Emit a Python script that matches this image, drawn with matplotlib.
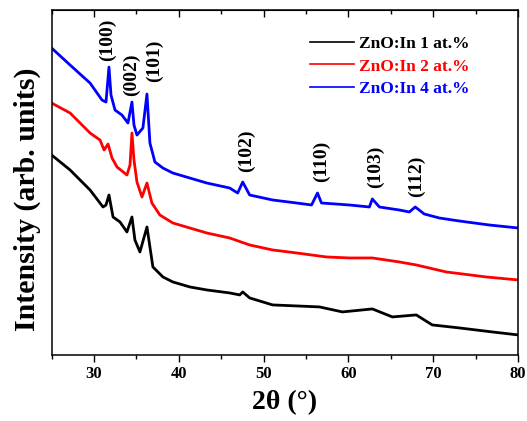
import matplotlib
matplotlib.use('Agg')
import matplotlib.pyplot as plt

plt.rcParams['font.family'] = ['Liberation Serif', 'DejaVu Serif']
plt.rcParams['font.weight'] = 'bold'

# 2theta (deg) and intensity (arb. units)
x_zn4 = [25.0, 27.18, 29.53, 30.94, 31.41, 31.76, 32.0, 32.47, 33.29, 34.0, 34.47, 34.71,
         35.06, 35.76, 36.24, 36.59, 37.18, 38.12, 39.29, 41.29, 43.29, 45.99, 46.94,
         47.53, 48.35, 51.06, 53.88, 55.65, 56.35, 56.82, 60.12, 62.47, 62.82, 63.65,
         66.0, 67.18, 67.88, 68.94, 70.71, 73.06, 76.59, 80.0]
y_zn4 = [307, 290, 272, 255, 253, 288, 260, 245, 240, 232, 253, 230,
         220, 227, 261, 212, 193, 187, 182, 177, 172, 167, 162,
         173, 160, 155, 152, 150, 162, 152, 150, 148, 156, 148,
         145, 143, 148, 141, 137, 134, 130, 127]

x_zn2 = [25.0, 27.18, 29.53, 30.71, 31.18, 31.65, 32.12, 32.71, 33.88, 34.24, 34.47, 34.71,
         35.06, 35.65, 36.24, 36.82, 37.76, 39.29, 41.29, 43.29, 45.99, 48.35, 51.06,
         53.88, 57.41, 60.12, 62.82, 66.0, 68.0, 71.53, 76.24, 80.0]
y_zn2 = [252, 242, 222, 215, 205, 211, 197, 188, 180, 190, 222, 195,
         173, 158, 172, 152, 140, 132, 127, 122, 117, 110, 105,
         102, 98, 97, 97, 93, 90, 83, 78, 75]

x_zn1 = [25.0, 27.18, 29.53, 31.06, 31.41, 31.76, 32.24, 33.06, 33.88, 34.47, 34.82, 35.41,
         36.24, 36.94, 38.12, 39.29, 41.29, 43.29, 45.99, 47.18, 47.53, 48.35, 51.06,
         53.88, 56.59, 59.29, 62.82, 65.18, 68.0, 69.88, 73.06, 76.94, 80.0]
y_zn1 = [200, 185, 165, 148, 150, 160, 138, 133, 123, 138, 115, 103,
         128, 88, 78, 73, 68, 65, 62, 60, 63, 57, 50,
         49, 48, 43, 46, 38, 40, 30, 27, 23, 20]

labels = ['ZnO:In 1 at.%', 'ZnO:In 2 at.%', 'ZnO:In 4 at.%']
colors = ['black', 'red', 'blue']

peak_names = ['(100)', '(002)', '(101)', '(102)', '(110)', '(103)', '(112)']
peak_x = [31.53, 34.47, 37.18, 48.0, 56.82, 63.18, 68.0]
peak_y = [315, 280, 294, 204, 194, 188, 179]

fig = plt.figure(figsize=(5.27, 4.21), dpi=100)
ax = fig.add_axes([0.098, 0.157, 0.885, 0.819])

for xs, ys, lab, c in zip([x_zn1, x_zn2, x_zn4], [y_zn1, y_zn2, y_zn4], labels, colors):
    ax.plot(xs, ys, color=c, lw=2.0, label=lab)

for name, px, py in zip(peak_names, peak_x, peak_y):
    ax.text(px, py, name, rotation=90, ha='center', va='center',
            fontsize=14, fontweight='bold')

ax.set_xlim(25, 80)
ax.set_ylim(0, 345)
ax.set_yticks([])
ax.set_xticks([30, 40, 50, 60, 70, 80])
ax.set_xticks([25, 35, 45, 55, 65, 75], minor=True)
ax.tick_params(axis='x', which='major', direction='out', length=5, width=1, labelsize=12, pad=3)
ax.tick_params(axis='x', which='minor', direction='out', length=3, width=1)
for t in ax.get_xticklabels():
    t.set_fontweight('bold')

top = ax.secondary_xaxis('top')
top.set_xticks([30, 40, 50, 60, 70, 80])
top.set_xticks([25, 35, 45, 55, 65, 75], minor=True)
top.tick_params(which='major', direction='in', length=5, width=1, labeltop=False)
top.tick_params(which='minor', direction='in', length=3, width=1)

for sp in ax.spines.values():
    sp.set_linewidth(1.1)

ax.set_xlabel('2θ (°)', fontsize=20, fontweight='bold', labelpad=6)
ax.set_ylabel('Intensity (arb. units)', fontsize=21.5, fontweight='bold')
ax.yaxis.set_label_coords(-0.022, 0.45)

leg = ax.legend(loc='upper left', bbox_to_anchor=(0.555, 0.925), frameon=False,
                fontsize=12.5, handlelength=2.5, handletextpad=0.3,
                labelspacing=0.36, borderaxespad=0, borderpad=0)
for txt, line, c in zip(leg.get_texts(), leg.get_lines(), colors):
    txt.set_color(c)
    txt.set_fontweight('bold')
    line.set_linewidth(1.2)

fig.savefig('out.png', dpi=100)
